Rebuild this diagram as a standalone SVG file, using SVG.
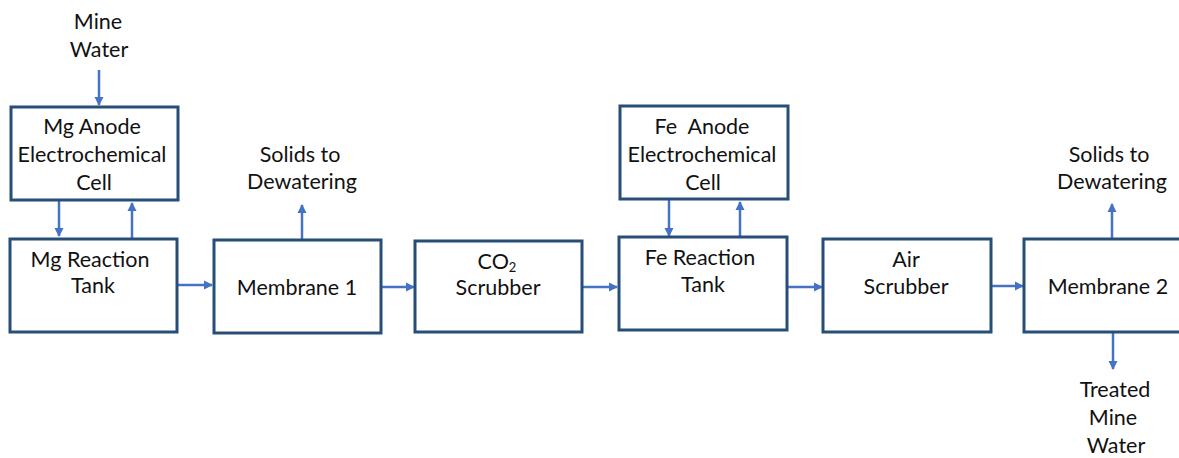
<svg xmlns="http://www.w3.org/2000/svg" width="1179" height="458" viewBox="0 0 1179 458">
<style>
.box{fill:#fff;stroke:#264e78;stroke-width:3}
.t{font-family:Lato,"Open Sans","Liberation Sans",sans-serif;font-size:21.5px;fill:#111;text-anchor:middle}
.c{fill:none;stroke:#4472c4;stroke-width:2.5;marker-end:url(#ah)}
</style>
<defs>
<marker id="ah" markerWidth="4" markerHeight="4" refX="3.2" refY="2" orient="auto" markerUnits="strokeWidth">
<path d="M0,0.2 L3.6,2 L0,3.8 Z" fill="#4472c4"/>
</marker>
</defs>
<rect width="1179" height="458" fill="#fff"/>
<g id="connectors">
<line class="c" x1="99" y1="70" x2="99" y2="105"/>
<line class="c" x1="59" y1="200" x2="59" y2="236"/>
<line class="c" x1="132" y1="238" x2="132" y2="203"/>
<line class="c" x1="177" y1="285" x2="212" y2="285"/>
<line class="c" x1="302" y1="240" x2="302" y2="205"/>
<line class="c" x1="381" y1="287" x2="414" y2="287"/>
<line class="c" x1="582" y1="287" x2="617" y2="287"/>
<line class="c" x1="669" y1="199" x2="669" y2="236"/>
<line class="c" x1="740" y1="237" x2="740" y2="202"/>
<line class="c" x1="787" y1="287" x2="822" y2="287"/>
<line class="c" x1="991" y1="286" x2="1023" y2="286"/>
<line class="c" x1="1112" y1="239" x2="1112" y2="204"/>
<line class="c" x1="1113" y1="332" x2="1113" y2="369"/>
</g>
<g id="mine-water-in">
<text class="t" x="98" y="29">Mine</text>
<text class="t" x="99" y="57">Water</text>
</g>
<g id="mg-anode">
<rect class="box" x="11" y="107" width="167" height="93"/>
<text class="t" x="92" y="134">Mg Anode</text>
<text class="t" x="92" y="162">Electrochemical</text>
<text class="t" x="94" y="190">Cell</text>
</g>
<g id="mg-tank">
<rect class="box" x="10" y="239" width="167" height="93"/>
<text class="t" x="90" y="267">Mg Reaction</text>
<text class="t" x="93" y="293">Tank</text>
</g>
<g id="solids-1">
<text class="t" x="300" y="162">Solids to</text>
<text class="t" x="302" y="189">Dewatering</text>
</g>
<g id="membrane-1">
<rect class="box" x="214" y="240" width="167" height="93"/>
<text class="t" x="297" y="295">Membrane 1</text>
</g>
<g id="co2-scrubber">
<rect class="box" x="415" y="241" width="167" height="91"/>
<text class="t" x="497" y="269">CO<tspan font-size="13" dy="3">2</tspan></text>
<text class="t" x="498" y="295">Scrubber</text>
</g>
<g id="fe-anode">
<rect class="box" x="620" y="106" width="168" height="93"/>
<text class="t" x="702" y="134" xml:space="preserve">Fe  Anode</text>
<text class="t" x="702" y="162">Electrochemical</text>
<text class="t" x="703" y="190">Cell</text>
</g>
<g id="fe-tank">
<rect class="box" x="619" y="237" width="168" height="93"/>
<text class="t" x="700" y="265">Fe Reaction</text>
<text class="t" x="703" y="292">Tank</text>
</g>
<g id="air-scrubber">
<rect class="box" x="823" y="239" width="168" height="93"/>
<text class="t" x="906" y="267">Air</text>
<text class="t" x="906" y="294">Scrubber</text>
</g>
<g id="membrane-2">
<rect class="box" x="1024" y="239" width="168" height="93"/>
<text class="t" x="1108" y="294">Membrane 2</text>
</g>
<g id="solids-2">
<text class="t" x="1109" y="162">Solids to</text>
<text class="t" x="1112" y="189">Dewatering</text>
</g>
<g id="treated-water">
<text class="t" x="1115" y="397">Treated</text>
<text class="t" x="1113" y="425">Mine</text>
<text class="t" x="1116" y="453">Water</text>
</g>
</svg>
